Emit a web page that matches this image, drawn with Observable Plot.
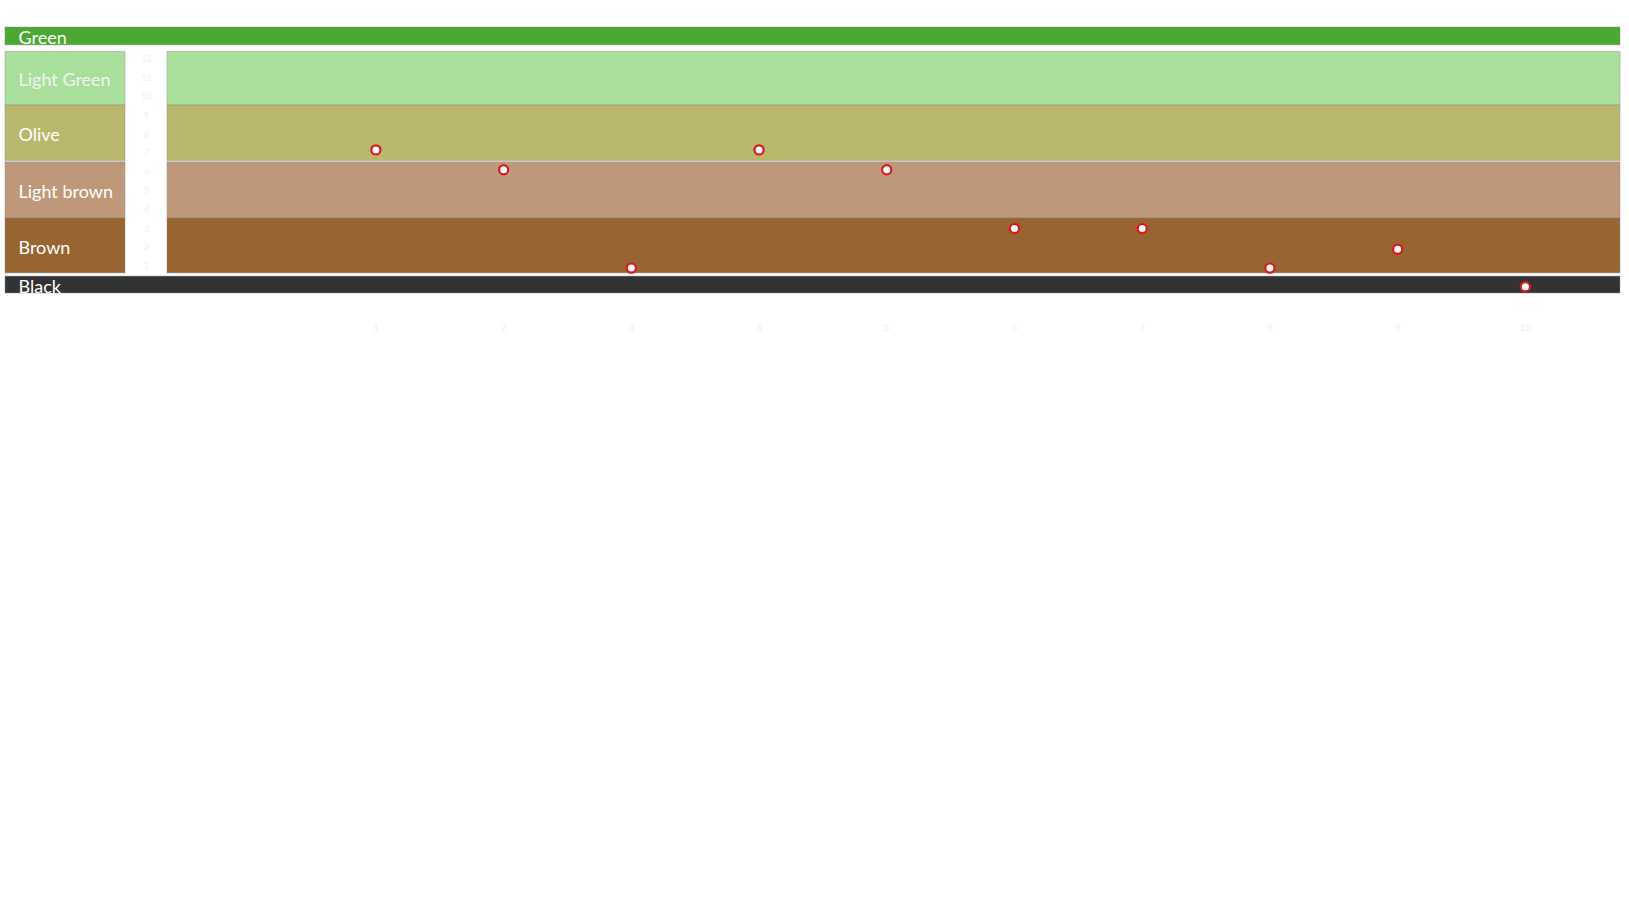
<!DOCTYPE html>
<html>
<head>
<meta charset="utf-8">
<script src="https://cdn.jsdelivr.net/npm/d3@7"></script>
<script src="https://cdn.jsdelivr.net/npm/@observablehq/plot@0.6"></script>
<style>
  html, body { margin: 0; padding: 0; background: #ffffff; }
  #chart { width: 1629px; height: 917px; }
  svg { display: block; }
</style>
</head>
<body>
<div id="chart"></div>
<script>
// ---- data ----
const bands = ["Green", "Light Green", "Olive", "Light brown", "Brown", "Black"];
const bandTop = [13.7, 12.4, 9.55, 6.53, 3.55, 0.45];
const bandBottom = [12.75, 9.55, 6.6, 3.55, 0.62, -0.45];
const palette = ["#4ba832", "#a8e09b", "#b9b86c", "#be9878", "#976432", "#333333"];
const wideBands = ["Green", "Black"];

const xValues = [1, 2, 3, 4, 5, 6, 7, 8, 9, 10];
const yValues = [7.19, 6.13, 0.9, 7.19, 6.13, 3.01, 3.01, 0.9, 1.9, -0.09];

const xTicks = [1, 2, 3, 4, 5, 6, 7, 8, 9, 10];
const yTicks = [1, 2, 3, 4, 5, 6, 7, 8, 9, 10, 11, 12];

// ---- derived tables ----
const bandRows = bands.map((name, i) => ({name, key: i, top: bandTop[i], bottom: bandBottom[i]}));
const wide = bandRows.filter(d => wideBands.includes(d.name));
const inner = bandRows.filter(d => !wideBands.includes(d.name));
const points = xValues.map((x, i) => ({x, y: yValues[i]}));

const font = "Lato, 'Open Sans', sans-serif";
const edge = {stroke: "#8a8a8a", strokeOpacity: 0.45, strokeWidth: 1};

const chart = Plot.plot({
  width: 1629,
  height: 340,
  marginLeft: 5,
  marginRight: 9,
  marginTop: 27,
  marginBottom: 47,
  style: {fontFamily: font, background: "white"},
  x: {domain: [-1.9, 10.745]},
  y: {domain: [-0.45, 13.7], axis: null},
  color: {type: "ordinal", domain: d3.range(bands.length), range: palette},
  marks: [
    // full-width bands
    Plot.rect(wide, {y1: "bottom", y2: "top", fill: "key", ...edge}),
    // label boxes
    Plot.rect(inner, {y1: "bottom", y2: "top", fill: "key", insetRight: 1495, ...edge}),
    // plot-area bands
    Plot.rect(inner, {y1: "bottom", y2: "top", fill: "key", insetLeft: 162, ...edge}),
    // band names
    Plot.text(bandRows, {
      y: d => (d.top + d.bottom) / 2, text: "name", frameAnchor: "left", dx: 13, dy: 2,
      fill: d => d.name === "Light Green" ? "#f2f2f2" : "white", fontSize: 18, fontFamily: font, textAnchor: "start"
    }),
    // faint y tick labels
    Plot.text(yTicks, {
      y: d => d, text: d => String(d), frameAnchor: "left", dx: 141,
      textAnchor: "middle", fill: "#efefef", fontSize: 9, fontFamily: font
    }),
    // faint x tick labels
    Plot.axisX(xTicks, {tickSize: 0, tickPadding: 30, tickFormat: d3.format("d"), fill: "#efefef", fontSize: 10, fontFamily: font, label: null}),
    // points
    Plot.dot(points, {x: "x", y: "y", r: 4.6, fill: "white", stroke: "#e3151c", strokeWidth: 2.2})
  ]
});

document.getElementById("chart").appendChild(chart);
</script>
</body>
</html>
